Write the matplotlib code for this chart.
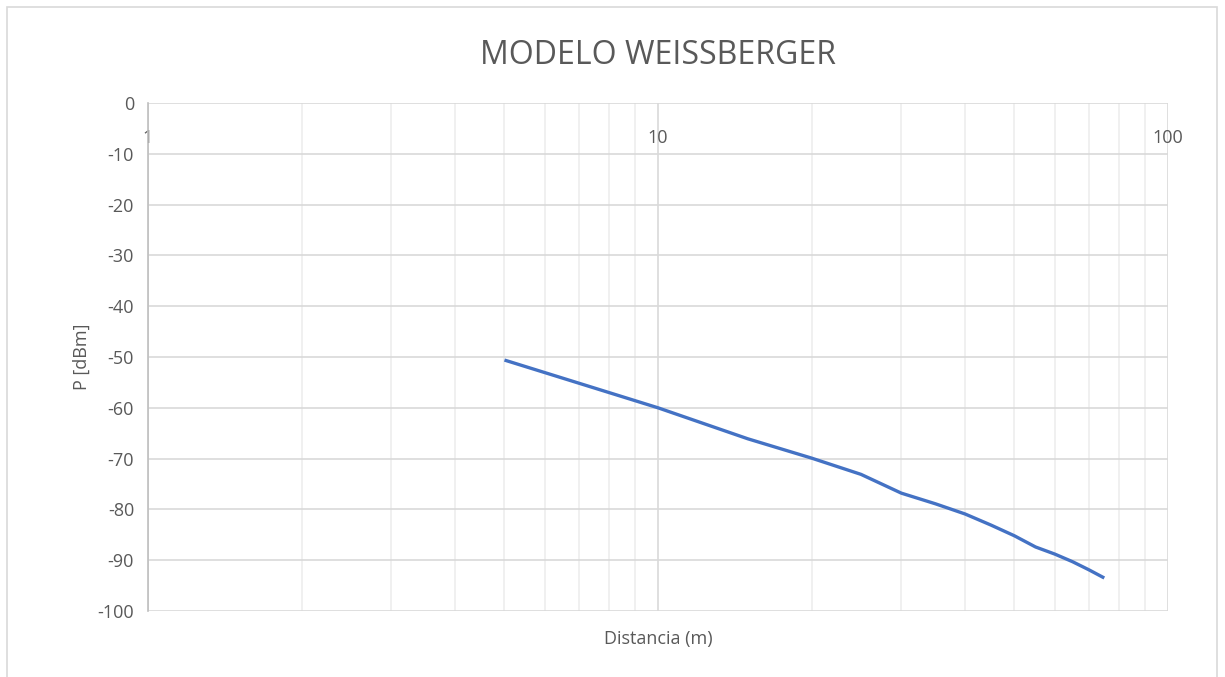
import matplotlib
matplotlib.use("Agg")
import matplotlib.pyplot as plt
from matplotlib.patches import Rectangle
from matplotlib.ticker import LogLocator, NullFormatter, FixedFormatter, FixedLocator

# data
distancia = [5, 10, 15, 20, 25, 30, 35, 40, 45, 50, 55, 60, 65, 70, 75]
potencia = [-50.6, -60.0, -66.1, -69.9, -73.1, -76.8, -78.9, -80.9, -83.1,
            -85.2, -87.4, -88.8, -90.3, -91.9, -93.5]
xTicks = [1, 10, 100]
xTickLabels = ["1", "10", "100"]
yTicks = list(range(-100, 1, 10))

textColor = "#595959"
plt.rcParams['font.family'] = ['Open Sans', 'DejaVu Sans']
plt.rcParams['axes.unicode_minus'] = False

fig = plt.figure(figsize=(12.25, 6.77), dpi=100)
ax = fig.add_axes([148 / 1225, 1 - 611 / 677, 1020 / 1225, 508 / 677])

ax.plot(distancia, potencia, color="#4472C4", linewidth=2.4, solid_capstyle="butt")

ax.set_xscale("log")
ax.set_xlim(1, 100)
ax.set_ylim(-100, 0)

# x axis crosses at y = 0 -> labels just under the top line
ax.xaxis.set_major_locator(FixedLocator(xTicks))
ax.xaxis.set_major_formatter(FixedFormatter(xTickLabels))
ax.xaxis.set_minor_locator(LogLocator(base=10, subs=range(2, 10)))
ax.xaxis.set_minor_formatter(NullFormatter())
ax.xaxis.set_ticks_position("top")
ax.tick_params(axis="x", which="both", length=0, labeltop=True, labelbottom=False,
               pad=-32, labelsize=13, labelcolor=textColor)
ax.set_yticks(yTicks)
ax.tick_params(axis="y", length=0, pad=10, labelsize=13, labelcolor=textColor)

ax.grid(True, which="major", axis="y", color="#d9d9d9", linewidth=1.2)
ax.grid(True, which="major", axis="x", color="#d9d9d9", linewidth=1.2)
ax.grid(True, which="minor", axis="x", color="#eeeeee", linewidth=1.2)
ax.set_axisbelow(True)

for side in ["top", "bottom", "right"]:
    ax.spines[side].set_visible(False)
ax.spines["left"].set_color("#bfbfbf")
ax.spines["left"].set_linewidth(1.2)

ax.set_title("MODELO WEISSBERGER", fontsize=23, color=textColor, pad=28)
ax.set_xlabel("Distancia (m)", fontsize=13, color=textColor, labelpad=14)
ax.set_ylabel("P [dBm]", fontsize=13, color=textColor, labelpad=5)

# chart area border
fig.patches.append(Rectangle((7 / 1225, -0.01), 1210 / 1225, 1.0, transform=fig.transFigure,
                             fill=False, edgecolor="#d9d9d9", linewidth=1.2))

fig.savefig("out.png", dpi=100)
